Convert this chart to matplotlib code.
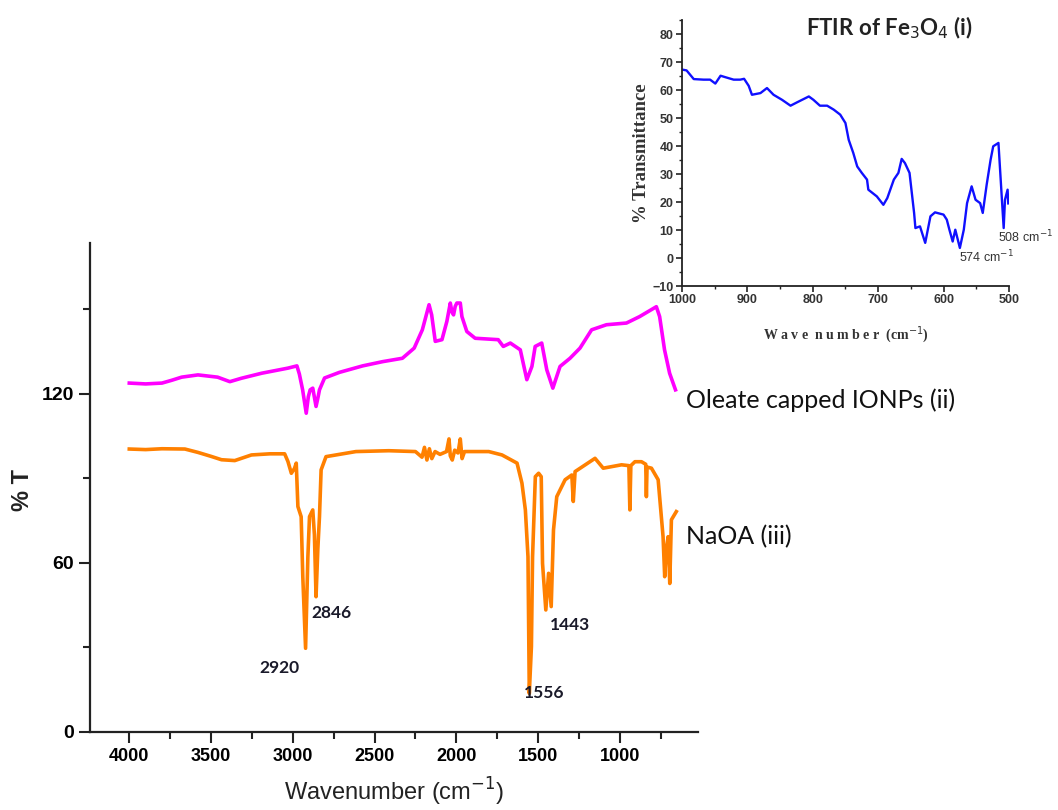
import matplotlib
matplotlib.use("Agg")
import matplotlib.pyplot as plt
from matplotlib.ticker import MultipleLocator

# oleate capped IONPs (ii)
wn_oleate = [4000, 3900, 3800, 3740, 3680, 3580, 3460, 3385, 3315, 3190, 3030, 2975, 2960, 2940,
             2918, 2905, 2894, 2878, 2858, 2845, 2837, 2806, 2715, 2573, 2451, 2330, 2258, 2208,
             2167, 2151, 2129, 2088, 2058, 2037, 2027, 2017, 2007, 1997, 1976, 1966, 1936, 1885,
             1744, 1713, 1670, 1609, 1569, 1538, 1518, 1478, 1447, 1410, 1366, 1305, 1244, 1173,
             1082, 960, 879, 777, 757, 727, 696, 660]
t_oleate = [123.8, 123.5, 123.8, 124.8, 125.9, 126.7, 125.9, 124.3, 125.5, 127.3, 129.1, 129.9, 127, 121.4,
            113.1, 119, 121.4, 122.0, 115.5, 119, 121.4, 125.6, 127.6, 129.9, 131.4, 132.6, 136.2, 142.7,
            151.6, 148.0, 138.6, 139.2, 145.7, 152.2, 149, 148.0, 151, 152.2, 152.2, 147.4, 142.1, 139.7,
            139.2, 136.8, 138, 135.6, 125.0, 129.7, 136.8, 138.0, 128.5, 122.0, 129.7, 132.6, 136.2, 142.7,
            144.5, 145.1, 147.4, 150.9, 147.4, 135.6, 127.3, 121.4]

# NaOA (iii)
wn_naoa = [4000, 3900, 3800, 3660, 3580, 3500, 3436, 3355, 3253, 3140, 3050, 3030, 3009, 2990,
           2979, 2969, 2949, 2939, 2922, 2908, 2898, 2878, 2868, 2858, 2847, 2837, 2827, 2797,
           2675, 2614, 2413, 2250, 2210, 2195, 2180, 2165, 2150, 2130, 2100, 2060, 2045, 2037,
           2025, 2010, 1990, 1976, 1965, 1950, 1900, 1802, 1721, 1629, 1599, 1578, 1562, 1554,
           1541, 1534, 1517, 1497, 1481, 1473, 1453, 1436, 1420, 1406, 1386, 1335, 1294, 1285,
           1274, 1152, 1102, 990, 945, 939, 933, 908, 868, 842, 838, 834, 807, 766,
           736, 726, 716, 705, 695, 685, 655]
t_naoa = [100.4, 100.2, 100.5, 100.4, 99.2, 97.8, 96.6, 96.3, 98.3, 98.7, 98.7, 96.0, 91.8, 93.5,
          95.4, 80.0, 76.4, 55.1, 29.7, 62.1, 76.4, 78.8, 70, 48.0, 65, 76.4, 93.0, 97.7,
          98.9, 99.5, 99.8, 99.5, 97.5, 101, 96.5, 100.5, 97, 99.5, 98.5, 99.5, 104, 98,
          96.5, 100, 99, 104, 97, 99.5, 99.5, 99.5, 98.3, 95.4, 88.3, 78.8, 62.2, 13.7,
          30.3, 62.2, 90.6, 91.8, 90.6, 59.8, 43.3, 56.3, 44.5, 71.7, 83.5, 89.5, 91.2, 81.8,
          92.4, 97.1, 93.6, 94.8, 94.5, 78.8, 94.5, 95.9, 95.9, 95, 83.5, 94, 93.6, 89.5,
          69.3, 55.1, 65, 69.3, 52.7, 75.3, 78.2]

# Fe3O4 (i), inset
wn_fe3o4 = [1000, 993, 982, 967, 957, 949, 941, 934, 921, 911, 905, 898, 893, 880, 870, 860, 847,
            834, 824, 806, 799, 789, 778, 768, 758, 750, 745, 738, 732, 725, 717, 715, 702, 692,
            686, 676, 669, 664, 659, 652, 645, 643, 636, 628, 620, 613, 600, 595, 591, 586, 582,
            575, 569, 564, 557, 551, 544, 540, 534, 528, 524, 516, 511, 508, 506, 502, 501]
t_fe3o4 = [67.3, 67, 63.9, 63.7, 63.7, 62.3, 65.1, 64.6, 63.7, 63.7, 64, 61.5, 58.3, 58.9, 60.7, 58.3, 56.5,
           54.4, 55.6, 57.7, 56.5, 54.4, 54.4, 53, 51.2, 48.2, 42.2, 37.5, 32.7, 30.4, 28, 24.4, 22, 19,
           21.4, 28, 30.4, 35.4, 33.9, 30.4, 16.1, 10.7, 11.3, 5.4, 14.9, 16.3, 15.5, 13.7, 10.1, 5.9, 10.1,
           3.6, 10.1, 19.6, 25.6, 20.8, 19.6, 16.1, 26.2, 35.1, 39.9, 41.1, 22, 10.7, 20.8, 24.4, 19.5]

peak_labels = ["2920", "2846", "1556", "1443"]
peak_label_pos = [(3084, 22.7), (2766, 42.2), (1465, 13.8), (1306, 38.0)]

fig = plt.figure(figsize=(10.58, 8.10), dpi=100)

# ---- main plot
ax = fig.add_axes([0.0851, 0.0963, 0.575, 0.6037])
ax.plot(wn_oleate, t_oleate, color="#ff00ff", lw=2.6)
ax.plot(wn_naoa, t_naoa, color="#ff8000", lw=2.6)
ax.set_xlim(4240, 520)
ax.set_ylim(0, 173.5)
for s in ["top", "right"]:
    ax.spines[s].set_visible(False)
for s in ["left", "bottom"]:
    ax.spines[s].set_linewidth(1.6)
    ax.spines[s].set_color("#222222")
ax.set_yticks([0, 60, 120])
ax.yaxis.set_minor_locator(MultipleLocator(30))
ax.set_xticks([4000, 3500, 3000, 2500, 2000, 1500, 1000])
ax.xaxis.set_minor_locator(MultipleLocator(250))
ax.tick_params(axis="both", which="major", length=8, width=1.5, color="#222222")
ax.tick_params(axis="both", which="minor", length=5, width=1.5, color="#222222")
for lab in ax.get_yticklabels():
    lab.set_fontfamily("Liberation Sans")
    lab.set_fontweight("bold")
    lab.set_fontsize(14)
for lab in ax.get_xticklabels():
    lab.set_fontfamily("Liberation Sans")
    lab.set_fontweight("bold")
    lab.set_fontsize(13)
ax.set_xlabel("Wavenumber (cm$^{-1}$)", fontfamily="Liberation Sans", fontsize=17,
              color="#222222", labelpad=8)

for txt, (xw, yv) in zip(peak_labels, peak_label_pos):
    ax.text(xw, yv, txt, ha="center", va="center", fontfamily="Lato", fontweight="bold",
            fontsize=12.5, color="#1a1a2a")

ax.text(597, 117.9, "Oleate capped IONPs (ii)", ha="left", va="center", fontfamily="Lato",
        fontsize=18, color="#111111", clip_on=False)
ax.text(597, 69.2, "NaOA (iii)", ha="left", va="center", fontfamily="Lato",
        fontsize=18, color="#111111", clip_on=False)
fig.text(0.021, 0.395, "% T", rotation=90, ha="center", va="center",
         fontfamily="Liberation Sans", fontweight="bold", fontsize=17, color="#222222")

# ---- inset
ins = fig.add_axes([0.6446, 0.6469, 0.309, 0.3284])
ins.plot(wn_fe3o4, t_fe3o4, color="#1010ff", lw=1.7)
ins.set_xlim(1000, 500)
ins.set_ylim(-10, 85)
for s in ["top", "right"]:
    ins.spines[s].set_visible(False)
for s in ["left", "bottom"]:
    ins.spines[s].set_linewidth(1.3)
    ins.spines[s].set_color("#222222")
ins.set_xticks([1000, 900, 800, 700, 600, 500])
ins.xaxis.set_minor_locator(MultipleLocator(50))
ins.set_yticks(list(range(-10, 90, 10)))
ins.yaxis.set_minor_locator(MultipleLocator(5))
ins.tick_params(axis="both", which="major", length=4, width=1.2, color="#222222",
                labelsize=9, pad=2)
ins.tick_params(axis="both", which="minor", length=2.5, width=1.0, color="#222222")
for lab in ins.get_xticklabels() + ins.get_yticklabels():
    lab.set_fontfamily("Liberation Sans")
    lab.set_fontweight("bold")
    lab.set_color("#333333")
ins.set_ylabel("% Transmittance", fontfamily="Liberation Serif", fontweight="bold",
               fontsize=13.5, color="#333333", labelpad=2)
ins.set_xlabel("W a v e  n u m b e r  (cm$^{-1}$)", fontfamily="Liberation Serif",
               fontweight="bold", fontsize=10, color="#333333", labelpad=13)
ins.text(535, 0.5, "574 cm$^{-1}$", ha="center", va="center", fontfamily="Liberation Sans",
         fontsize=9, color="#333333", clip_on=False)
ins.text(516, 7.6, "508 cm$^{-1}$", ha="left", va="center", fontfamily="Liberation Sans",
         fontsize=9, color="#333333", clip_on=False)
fig.text(0.841, 0.965, "FTIR of Fe$_3$O$_4$ (i)", ha="center", va="center",
         fontfamily="Lato", fontweight="bold", fontsize=16, color="#222222")

fig.savefig("out.png", dpi=100)
